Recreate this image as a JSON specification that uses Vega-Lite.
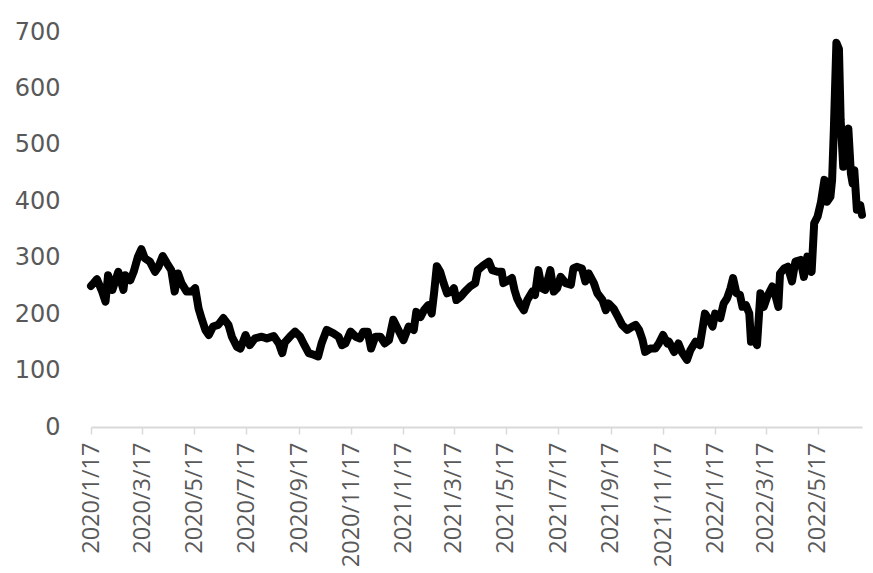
{
  "$schema": "https://vega.github.io/schema/vega-lite/v6.json",
  "width": 771,
  "height": 395,
  "autosize": {"type": "none"},
  "padding": {"left": 91, "top": 32, "right": 11, "bottom": 146},
  "background": "white",
  "config": {"view": {"stroke": null}},
  "data": {"values": [
    {"date":"2020-01-17","v":250},{"date":"2020-01-20","v":255},{"date":"2020-01-24","v":262},{"date":"2020-01-30","v":240},
    {"date":"2020-02-03","v":222},{"date":"2020-02-06","v":269},{"date":"2020-02-11","v":243},{"date":"2020-02-18","v":275},
    {"date":"2020-02-24","v":243},{"date":"2020-02-26","v":269},{"date":"2020-03-03","v":260},{"date":"2020-03-07","v":275},
    {"date":"2020-03-12","v":302},{"date":"2020-03-16","v":315},{"date":"2020-03-20","v":299},{"date":"2020-03-26","v":293},
    {"date":"2020-04-01","v":275},{"date":"2020-04-05","v":284},{"date":"2020-04-10","v":303},{"date":"2020-04-15","v":290},
    {"date":"2020-04-20","v":278},{"date":"2020-04-24","v":240},{"date":"2020-04-28","v":272},{"date":"2020-05-02","v":255},
    {"date":"2020-05-08","v":240},{"date":"2020-05-14","v":240},{"date":"2020-05-18","v":246},{"date":"2020-05-22","v":210},
    {"date":"2020-05-26","v":190},{"date":"2020-05-30","v":172},{"date":"2020-06-03","v":163},{"date":"2020-06-08","v":178},
    {"date":"2020-06-14","v":181},{"date":"2020-06-20","v":193},{"date":"2020-06-26","v":181},{"date":"2020-06-30","v":160},
    {"date":"2020-07-06","v":142},{"date":"2020-07-10","v":139},{"date":"2020-07-16","v":163},{"date":"2020-07-21","v":145},
    {"date":"2020-07-27","v":157},{"date":"2020-08-04","v":160},{"date":"2020-08-10","v":157},{"date":"2020-08-18","v":161},
    {"date":"2020-08-24","v":148},{"date":"2020-08-28","v":131},{"date":"2020-08-31","v":150},{"date":"2020-09-06","v":160},
    {"date":"2020-09-12","v":169},{"date":"2020-09-18","v":160},{"date":"2020-09-23","v":145},{"date":"2020-09-28","v":131},
    {"date":"2020-10-04","v":128},{"date":"2020-10-09","v":125},{"date":"2020-10-13","v":148},{"date":"2020-10-19","v":172},
    {"date":"2020-10-27","v":166},{"date":"2020-11-02","v":160},{"date":"2020-11-06","v":145},{"date":"2020-11-10","v":148},
    {"date":"2020-11-16","v":169},{"date":"2020-11-22","v":160},{"date":"2020-11-27","v":157},{"date":"2020-12-01","v":169},
    {"date":"2020-12-06","v":169},{"date":"2020-12-10","v":139},{"date":"2020-12-15","v":160},{"date":"2020-12-21","v":160},
    {"date":"2020-12-26","v":148},{"date":"2020-12-31","v":154},{"date":"2021-01-05","v":190},{"date":"2021-01-11","v":172},
    {"date":"2021-01-17","v":154},{"date":"2021-01-23","v":178},{"date":"2021-01-29","v":172},{"date":"2021-02-01","v":204},
    {"date":"2021-02-06","v":195},{"date":"2021-02-10","v":207},{"date":"2021-02-15","v":216},{"date":"2021-02-19","v":201},
    {"date":"2021-02-22","v":240},{"date":"2021-02-25","v":285},{"date":"2021-03-01","v":275},{"date":"2021-03-05","v":255},
    {"date":"2021-03-09","v":237},{"date":"2021-03-14","v":240},{"date":"2021-03-17","v":246},{"date":"2021-03-20","v":225},
    {"date":"2021-03-25","v":231},{"date":"2021-03-30","v":240},{"date":"2021-04-05","v":249},{"date":"2021-04-11","v":255},
    {"date":"2021-04-14","v":278},{"date":"2021-04-21","v":287},{"date":"2021-04-27","v":293},{"date":"2021-05-01","v":278},
    {"date":"2021-05-07","v":275},{"date":"2021-05-12","v":275},{"date":"2021-05-14","v":255},{"date":"2021-05-20","v":260},
    {"date":"2021-05-24","v":264},{"date":"2021-05-27","v":243},{"date":"2021-05-30","v":228},{"date":"2021-06-03","v":216},
    {"date":"2021-06-07","v":207},{"date":"2021-06-11","v":225},{"date":"2021-06-17","v":240},{"date":"2021-06-20","v":234},
    {"date":"2021-06-24","v":278},{"date":"2021-06-28","v":246},{"date":"2021-07-02","v":243},{"date":"2021-07-08","v":278},
    {"date":"2021-07-12","v":240},{"date":"2021-07-16","v":246},{"date":"2021-07-20","v":266},{"date":"2021-07-26","v":255},
    {"date":"2021-08-01","v":252},{"date":"2021-08-04","v":281},{"date":"2021-08-08","v":284},{"date":"2021-08-14","v":281},
    {"date":"2021-08-18","v":258},{"date":"2021-08-22","v":272},{"date":"2021-08-28","v":255},{"date":"2021-09-01","v":237},
    {"date":"2021-09-07","v":225},{"date":"2021-09-11","v":207},{"date":"2021-09-14","v":219},{"date":"2021-09-20","v":210},
    {"date":"2021-09-26","v":193},{"date":"2021-09-30","v":181},{"date":"2021-10-06","v":172},{"date":"2021-10-12","v":178},
    {"date":"2021-10-16","v":181},{"date":"2021-10-20","v":172},{"date":"2021-10-24","v":154},{"date":"2021-10-27","v":133},
    {"date":"2021-11-02","v":139},{"date":"2021-11-08","v":139},{"date":"2021-11-12","v":148},{"date":"2021-11-17","v":163},
    {"date":"2021-11-22","v":148},{"date":"2021-11-24","v":151},{"date":"2021-11-30","v":133},{"date":"2021-12-05","v":148},
    {"date":"2021-12-09","v":133},{"date":"2021-12-15","v":119},{"date":"2021-12-19","v":136},{"date":"2021-12-25","v":151},
    {"date":"2021-12-30","v":145},{"date":"2022-01-02","v":172},{"date":"2022-01-05","v":201},{"date":"2022-01-10","v":190},
    {"date":"2022-01-14","v":178},{"date":"2022-01-17","v":201},{"date":"2022-01-23","v":193},{"date":"2022-01-27","v":219},
    {"date":"2022-01-31","v":228},{"date":"2022-02-04","v":246},{"date":"2022-02-07","v":264},{"date":"2022-02-11","v":237},
    {"date":"2022-02-15","v":234},{"date":"2022-02-18","v":213},{"date":"2022-02-22","v":216},{"date":"2022-02-26","v":201},
    {"date":"2022-02-28","v":151},{"date":"2022-03-04","v":160},{"date":"2022-03-07","v":145},{"date":"2022-03-11","v":237},
    {"date":"2022-03-15","v":213},{"date":"2022-03-19","v":231},{"date":"2022-03-25","v":249},{"date":"2022-03-29","v":231},
    {"date":"2022-04-01","v":213},{"date":"2022-04-03","v":272},{"date":"2022-04-08","v":281},{"date":"2022-04-12","v":284},
    {"date":"2022-04-17","v":258},{"date":"2022-04-21","v":293},{"date":"2022-04-27","v":296},{"date":"2022-05-01","v":266},
    {"date":"2022-05-05","v":302},{"date":"2022-05-10","v":275},{"date":"2022-05-13","v":361},{"date":"2022-05-17","v":373},
    {"date":"2022-05-21","v":399},{"date":"2022-05-25","v":438},{"date":"2022-05-28","v":399},{"date":"2022-06-01","v":408},
    {"date":"2022-06-03","v":438},{"date":"2022-06-05","v":526},{"date":"2022-06-08","v":681},{"date":"2022-06-11","v":670},
    {"date":"2022-06-13","v":544},{"date":"2022-06-16","v":461},{"date":"2022-06-19","v":514},{"date":"2022-06-22","v":529},
    {"date":"2022-06-25","v":449},{"date":"2022-06-27","v":432},{"date":"2022-06-29","v":455},{"date":"2022-07-02","v":385},
    {"date":"2022-07-06","v":393},{"date":"2022-07-08","v":376}
  ]},
  "mark": {"type": "line", "color": "black", "strokeWidth": 8, "strokeJoin": "round", "strokeCap": "round"},
  "encoding": {
    "x": {
      "field": "date", "type": "temporal",
      "scale": {"type": "utc", "domain": [{"year":2020,"month":1,"date":17,"utc":true},{"year":2022,"month":7,"date":8,"utc":true}], "nice": false},
      "axis": {
        "title": null, "grid": false,
        "values": [
          {"year":2020,"month":1,"date":17,"utc":true},{"year":2020,"month":3,"date":17,"utc":true},
          {"year":2020,"month":5,"date":17,"utc":true},{"year":2020,"month":7,"date":17,"utc":true},
          {"year":2020,"month":9,"date":17,"utc":true},{"year":2020,"month":11,"date":17,"utc":true},
          {"year":2021,"month":1,"date":17,"utc":true},{"year":2021,"month":3,"date":17,"utc":true},
          {"year":2021,"month":5,"date":17,"utc":true},{"year":2021,"month":7,"date":17,"utc":true},
          {"year":2021,"month":9,"date":17,"utc":true},{"year":2021,"month":11,"date":17,"utc":true},
          {"year":2022,"month":1,"date":17,"utc":true},{"year":2022,"month":3,"date":17,"utc":true},
          {"year":2022,"month":5,"date":17,"utc":true}
        ],
        "format": "%Y/%-m/%-d",
        "labelAngle": -90,
        "labelOverlap": false,
        "labelBound": false,
        "labelFlush": false,
        "labelFont": "Open Sans",
        "labelFontSize": 23.5,
        "labelColor": "#595959",
        "labelPadding": 8,
        "domainColor": "#d9d9d9",
        "domainWidth": 2,
        "tickColor": "#d9d9d9",
        "tickWidth": 1.5,
        "tickSize": 7
      }
    },
    "y": {
      "field": "v", "type": "quantitative",
      "scale": {"domain": [0, 700], "nice": false},
      "axis": {
        "title": null, "grid": false, "domain": false, "ticks": false, "tickSize": 0,
        "values": [0, 100, 200, 300, 400, 500, 600, 700],
        "labelFont": "DejaVu Sans",
        "labelFontSize": 24,
        "labelColor": "#595959",
        "labelPadding": 31,
        "labelOverlap": false,
        "labelFlush": false
      }
    }
  }
}
